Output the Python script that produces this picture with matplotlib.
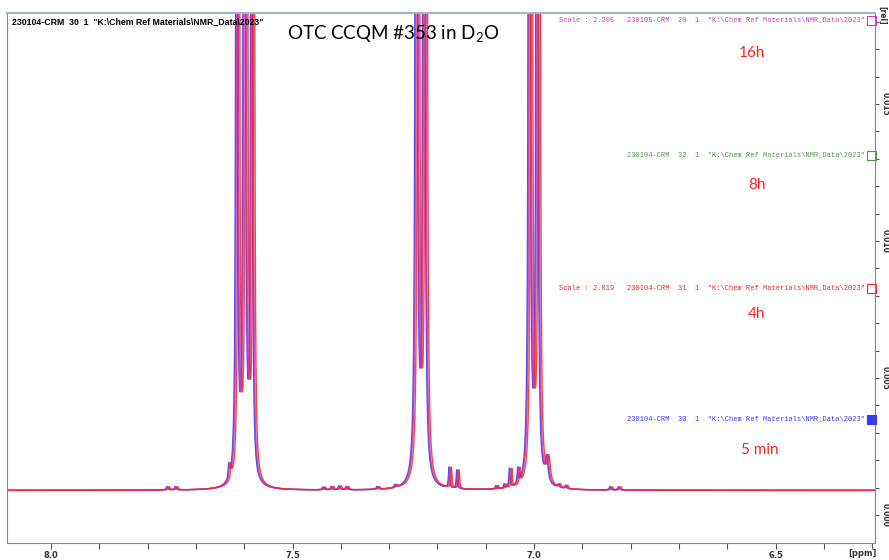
import matplotlib.pyplot as plt
import matplotlib.patches as mpatches
import numpy as np

W, H = 889, 560

# peak table (blue trace): position [ppm], height [rel], half width [ppm]
peak_ppm = [7.760, 7.743, 7.632, 7.616, 7.600, 7.585,
            7.437, 7.420, 7.404, 7.389, 7.325, 7.288,
            7.244, 7.228, 7.176, 7.160, 7.079, 7.062, 7.051, 7.034,
            7.010, 6.994, 6.974, 6.950, 6.935, 6.843, 6.825]
peak_height = [0.00012, 0.00012, 0.0005, 0.07, 0.12, 0.07,
               0.0001, 0.00012, 0.00014, 0.00012, 0.0001, 0.0001,
               0.12, 0.12, 0.00075, 0.00068, 0.00012, 0.00014, 0.00068, 0.00055,
               0.10, 0.10, 0.0009, 0.00012, 0.00012, 0.00012, 0.00012]
peak_width = [0.002, 0.002, 0.0015, 0.0011, 0.0011, 0.0011,
              0.002, 0.002, 0.002, 0.002, 0.002, 0.002,
              0.0011, 0.0011, 0.0013, 0.0013, 0.0015, 0.0015, 0.0013, 0.0013,
              0.0011, 0.0011, 0.0035, 0.002, 0.002, 0.002, 0.002]
baseline = 0.0009

# the four runs, drawn in this order
run_names = ["8h", "5 min", "16h", "4h"]
run_colors = ["#4f9a4f", "#3a3aff", "#cc3fcc", "#ff2020"]
run_shift = [-0.001, 0.0, -0.002, -0.005]

# labels on the right hand side
tag_text = ['Scale : 2.205   230105-CRM  20  1  "K:\\Chem Ref Materials\\NMR_Data\\2023"',
            '230104-CRM  32  1  "K:\\Chem Ref Materials\\NMR_Data\\2023"',
            'Scale : 2.019   230104-CRM  31  1  "K:\\Chem Ref Materials\\NMR_Data\\2023"',
            '230104-CRM  30  1  "K:\\Chem Ref Materials\\NMR_Data\\2023"']
tag_colors = ["#cc3fcc", "#4f9a4f", "#ff2020", "#3a3aff"]
tag_y = [20, 155, 288, 419]
tag_filled = [False, False, False, True]
time_text = ["16h", "8h", "4h", "5 min"]
time_xy = [(752, 53), (757, 185), (757, 314), (760, 450)]

xticks_major = [8.0, 7.5, 7.0, 6.5]
yticks_major = [0.000, 0.005, 0.010, 0.015]


def spectrum(ppm, shift):
    y = np.full_like(ppm, baseline)
    for p, h, w in zip(peak_ppm, peak_height, peak_width):
        y += h * w**2 / ((ppm - p - shift)**2 + w**2)
    return y


def fx(px):
    return px / W


def fy(py):
    return 1 - py / H


fig = plt.figure(figsize=(W / 100, H / 100), dpi=100)
ax = fig.add_axes([fx(7), fy(543), fx(875) - fx(7), fy(13) - fy(543)])

ppm = np.linspace(8.0911, 6.294, 14000)
for name, c, s in zip(run_names, run_colors, run_shift):
    ax.plot(ppm, spectrum(ppm, s), color=c, lw=1.0, alpha=0.85, label=name)

ax.set_xlim(8.0911, 6.294)
ax.set_ylim(-0.00102, 0.01832)

ax.set_xticks(xticks_major)
ax.set_xticklabels(["%.1f" % v for v in xticks_major])
ax.set_xticks(np.arange(6.3, 8.1, 0.1), minor=True)
ax.tick_params(axis="x", which="both", direction="out", length=4, width=0.8,
               colors="#555555", labelsize=6, pad=2)
for t in ax.get_xticklabels():
    t.set_fontweight("bold")
    t.set_color("#333333")

ax.yaxis.tick_right()
ax.set_yticks(yticks_major)
ax.set_yticklabels(["%.3f" % v for v in yticks_major], rotation=-90, va="center")
ax.set_yticks(np.arange(0.0, 0.0185, 0.001), minor=True)
ax.tick_params(axis="y", which="both", direction="out", length=3, width=0.8,
               colors="#555555", labelsize=5.5, pad=1)
for t in ax.get_yticklabels():
    t.set_fontweight("bold")
    t.set_color("#333333")

for sp in ["left", "bottom", "right"]:
    ax.spines[sp].set_color("#888888")
ax.spines["top"].set_color("#9fb6c8")
ax.spines["top"].set_linewidth(1.5)

fig.text(fx(862), fy(553), "[ppm]", fontsize=6, fontweight="bold", color="#333333",
         ha="center", va="center")
fig.text(fx(882), fy(15), "[rel]", fontsize=5.5, fontweight="bold", color="#333333",
         ha="center", va="center", rotation=-90)

fig.text(fx(12), fy(22), '230104-CRM  30  1  "K:\\Chem Ref Materials\\NMR_Data\\2023"',
         fontsize=6.3, fontweight="bold", family="Liberation Sans", va="center")
fig.text(fx(393), fy(33), r"OTC CCQM #353 in D$\mathregular{_2}$O", fontsize=13.5,
         family="Lato", ha="center", va="center")

for txt, c, y, filled in zip(tag_text, tag_colors, tag_y, tag_filled):
    fig.text(fx(865), fy(y), txt, fontsize=5.0, family="Liberation Mono", color=c,
             ha="right", va="center")
    fig.patches.append(mpatches.Rectangle((fx(867), fy(y + 5)), fx(9), 9 / H,
                                          transform=fig.transFigure, fill=filled,
                                          facecolor=c, edgecolor=c, lw=0.8))

for txt, (x, y) in zip(time_text, time_xy):
    fig.text(fx(x), fy(y), txt, fontsize=11, family="Lato", color="#ff2020",
             ha="center", va="center")

fig.savefig("out.png", dpi=100)
